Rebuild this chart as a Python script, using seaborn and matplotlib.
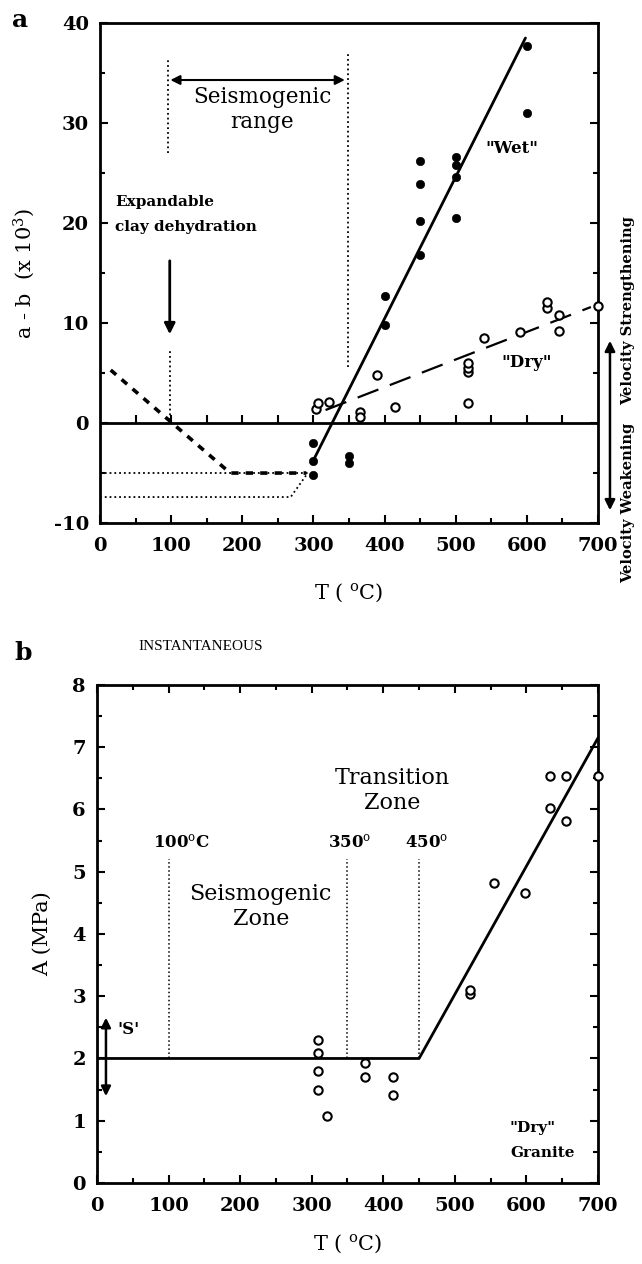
import matplotlib
matplotlib.use("Agg")
import seaborn as sns
import matplotlib.pyplot as plt
from matplotlib.ticker import MultipleLocator

# ---- panel a : a-b versus temperature ----
wet_T = [300, 300, 300, 350, 350, 400, 400, 450, 450, 450, 450, 500, 500, 500, 500, 600, 600]
wet_ab = [-2.0, -3.8, -5.2, -3.3, -4.0, 9.8, 12.7, 16.8, 20.2, 23.9, 26.2, 26.6, 25.8, 24.6, 20.5, 31.0, 37.7]
dry_T = [303, 307, 322, 365, 365, 390, 415, 517, 517, 517, 517, 540, 590, 628, 628, 645, 645, 700]
dry_ab = [1.4, 2.0, 2.1, 1.1, 0.6, 4.8, 1.6, 2.0, 5.1, 5.5, 6.0, 8.5, 9.1, 11.5, 12.1, 10.8, 9.2, 11.7]
wet_fit_T = [298, 598]
wet_fit_ab = [-4.0, 38.5]
dry_fit_T = [317, 690]
dry_fit_ab = [1.3, 11.6]
clay_T = [15, 183, 290]
clay_ab = [5.3, -5.0, -5.0]
lower_T = [0, 268, 292]
lower_ab = [-7.4, -7.4, -5.0]
upper_T = [0, 292]
upper_ab = [-5.0, -5.0]

# ---- panel b : instantaneous A versus temperature ----
b_T = [309, 309, 309, 309, 322, 374, 374, 413, 413, 521, 521, 555, 598, 633, 633, 655, 655, 700]
b_A = [2.3, 2.08, 1.8, 1.5, 1.07, 1.93, 1.71, 1.71, 1.41, 3.03, 3.1, 4.82, 4.66, 6.03, 6.54, 5.82, 6.54, 6.54]
b_fit_T = [0, 450, 700]
b_fit_A = [2.0, 2.0, 7.15]
b_zone_T = [100, 350, 450]

sns.set_style("ticks")
plt.rcParams['font.family'] = ['DejaVu Serif']
plt.rcParams['mathtext.fontset'] = 'dejavuserif'
plt.rcParams['axes.unicode_minus'] = False
plt.rcParams['text.color'] = 'black'
plt.rcParams['axes.labelcolor'] = 'black'
plt.rcParams['xtick.color'] = 'black'
plt.rcParams['ytick.color'] = 'black'

fig = plt.figure(figsize=(6.42, 12.64), dpi=100)
ax1 = fig.add_axes([0.1558, 0.5862, 0.7757, 0.3956])
ax2 = fig.add_axes([0.151, 0.0641, 0.7805, 0.394])


def style_axis(ax, top):
    for sp in ax.spines.values():
        sp.set_linewidth(2.0)
        sp.set_color("black")
    ax.tick_params(which="both", direction="in", top=top, right=True, width=1.5,
                   colors="black", labelsize=14)
    ax.tick_params(which="major", length=6)
    ax.tick_params(which="minor", length=3.5)
    ax.tick_params(axis="x", pad=10)
    ax.tick_params(axis="y", pad=8)
    for lab in ax.get_xticklabels() + ax.get_yticklabels():
        lab.set_fontweight("bold")


# ================= panel a =================
ax = ax1
ax.axhline(0, color="black", lw=2.0, zorder=2)
ax.plot(range(50, 700, 50), [0] * 13, ls="none", marker=2, ms=6, mew=1.5, color="black")

sns.lineplot(x=wet_fit_T, y=wet_fit_ab, ax=ax, color="black", lw=2.0, estimator=None, sort=False)
sns.lineplot(x=dry_fit_T, y=dry_fit_ab, ax=ax, color="black", lw=1.6, estimator=None, sort=False,
             linestyle=(0, (10, 5.5)))
sns.lineplot(x=clay_T, y=clay_ab, ax=ax, color="black", lw=2.6, estimator=None, sort=False,
             linestyle=(0, (2, 2)))
sns.lineplot(x=upper_T, y=upper_ab, ax=ax, color="black", lw=1.3, estimator=None, sort=False,
             linestyle=":")
sns.lineplot(x=lower_T, y=lower_ab, ax=ax, color="black", lw=1.3, estimator=None, sort=False,
             linestyle=":")

sns.scatterplot(x=wet_T, y=wet_ab, ax=ax, color="black", s=36, edgecolor="black", zorder=4)
sns.scatterplot(x=dry_T, y=dry_ab, ax=ax, facecolor="white", edgecolor="black", s=36,
                linewidth=1.5, zorder=4, clip_on=False)

# seismogenic range guides
ax.plot([95, 95], [27, 36.5], ls=":", lw=1.3, color="black")
ax.plot([98, 98], [0.3, 7.3], ls=":", lw=1.3, color="black")
ax.plot([348, 348], [5.6, 37], ls=":", lw=1.3, color="black")
ax.annotate("", xy=(95, 34.3), xytext=(348, 34.3),
            arrowprops=dict(arrowstyle="<|-|>", color="black", lw=1.5, mutation_scale=14))
ax.annotate("", xy=(98, 8.6), xytext=(98, 16.5),
            arrowprops=dict(arrowstyle="-|>", color="black", lw=2, mutation_scale=16))
ax.text(228, 32.6, "Seismogenic", ha="center", va="center", fontsize=15.5)
ax.text(228, 30.1, "range", ha="center", va="center", fontsize=15.5)
ax.text(21, 22.1, "Expandable", ha="left", va="center", fontsize=11, fontweight="bold")
ax.text(21, 19.6, "clay dehydration", ha="left", va="center", fontsize=11, fontweight="bold")
ax.text(579, 27.5, '"Wet"', ha="center", va="center", fontsize=12, fontweight="bold")
ax.text(600, 6.1, '"Dry"', ha="center", va="center", fontsize=12, fontweight="bold")

# velocity strengthening / weakening
ax.annotate("", xy=(1.024, 8.5), xytext=(1.024, -9.0),
            xycoords=("axes fraction", "data"), textcoords=("axes fraction", "data"),
            arrowprops=dict(arrowstyle="<|-|>", color="black", lw=1.8, mutation_scale=15))
ax.text(1.06, 11.2, "Velocity Strengthening", transform=ax.get_yaxis_transform(), rotation=90,
        ha="center", va="center", fontsize=10.5, fontweight="bold")
ax.text(1.06, -8.0, "Velocity Weakening", transform=ax.get_yaxis_transform(), rotation=90,
        ha="center", va="center", fontsize=10.5, fontweight="bold")

ax.set_xlim(0, 700)
ax.set_ylim(-10, 40)
ax.xaxis.set_major_locator(MultipleLocator(100))
ax.xaxis.set_minor_locator(MultipleLocator(50))
ax.yaxis.set_major_locator(MultipleLocator(10))
ax.yaxis.set_minor_locator(MultipleLocator(5))
ax.set_xlabel("T ( $^{\\mathrm{o}}$C)", fontsize=15)
ax.set_ylabel("a - b  (x 10$^{3}$)", fontsize=15)
ax.xaxis.set_label_coords(0.5, -0.118)
ax.yaxis.set_label_coords(-0.126, 0.5)
style_axis(ax, top=False)

# ================= panel b =================
ax = ax2
sns.lineplot(x=b_fit_T, y=b_fit_A, ax=ax, color="black", lw=2.0, estimator=None, sort=False)
for t in b_zone_T:
    ax.plot([t, t], [2.0, 5.2], ls=":", lw=1.1, color="black")
sns.scatterplot(x=b_T, y=b_A, ax=ax, facecolor="white", edgecolor="black", s=36,
                linewidth=1.5, zorder=4, clip_on=False)

ax.annotate("", xy=(12.6, 2.7), xytext=(12.6, 1.35),
            arrowprops=dict(arrowstyle="<|-|>", color="black", lw=1.8, mutation_scale=14))
ax.text(28, 2.47, "'S'", ha="left", va="center", fontsize=12, fontweight="bold")
ax.text(78, 5.47, "100$^{\\mathrm{o}}$C", ha="left", va="center", fontsize=12, fontweight="bold")
ax.text(323, 5.48, "350$^{\\mathrm{o}}$", ha="left", va="center", fontsize=12, fontweight="bold")
ax.text(430, 5.48, "450$^{\\mathrm{o}}$", ha="left", va="center", fontsize=12, fontweight="bold")
ax.text(412, 6.5, "Transition", ha="center", va="center", fontsize=16)
ax.text(412, 6.11, "Zone", ha="center", va="center", fontsize=16)
ax.text(228, 4.65, "Seismogenic", ha="center", va="center", fontsize=16)
ax.text(229, 4.24, "Zone", ha="center", va="center", fontsize=16)
ax.text(609, 0.88, '"Dry"', ha="center", va="center", fontsize=11, fontweight="bold")
ax.text(623, 0.48, "Granite", ha="center", va="center", fontsize=11, fontweight="bold")
ax.text(0.206, 1.078, "INSTANTANEOUS", transform=ax.transAxes, ha="center", va="center",
        fontsize=11, family="Liberation Serif", color="black")

ax.set_xlim(0, 700)
ax.set_ylim(0, 8)
ax.xaxis.set_major_locator(MultipleLocator(100))
ax.xaxis.set_minor_locator(MultipleLocator(50))
ax.yaxis.set_major_locator(MultipleLocator(1))
ax.yaxis.set_minor_locator(MultipleLocator(0.5))
ax.set_xlabel("T ( $^{\\mathrm{o}}$C)", fontsize=15)
ax.set_ylabel("A (MPa)", fontsize=15)
ax.xaxis.set_label_coords(0.5, -0.10)
ax.yaxis.set_label_coords(-0.09, 0.5)
style_axis(ax, top=True)

fig.text(0.031, 0.984, "a", ha="center", va="center", fontsize=18, fontweight="bold")
fig.text(0.036, 0.4834, "b", ha="center", va="center", fontsize=18, fontweight="bold")

fig.savefig("out.png", dpi=100)
